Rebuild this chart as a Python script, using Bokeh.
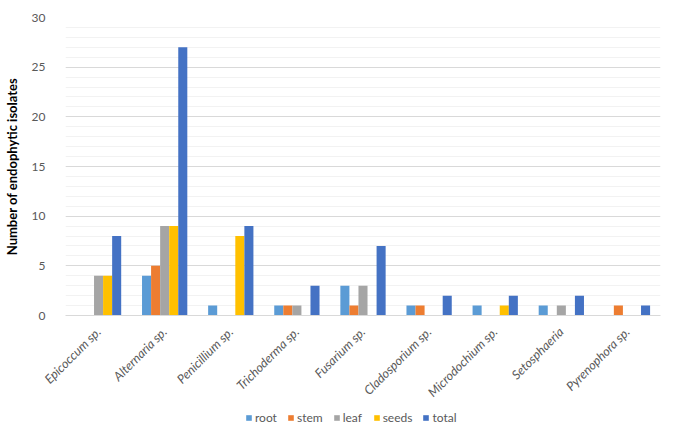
from math import pi
from bokeh.plotting import figure
from bokeh.layouts import column
from bokeh.models import FactorRange, ColumnDataSource, SingleIntervalTicker, Legend, LegendItem
from bokeh.transform import dodge
from bokeh.embed import file_html
from bokeh.resources import INLINE

categories = ["Epicoccum sp.", "Alternaria sp.", "Penicillium sp.", "Trichoderma sp.",
              "Fusarium sp.", "Cladosporium sp.", "Microdochium sp.", "Setosphaeria",
              "Pyrenophora sp."]
root = [0, 4, 1, 1, 3, 1, 1, 1, 0]
stem = [0, 5, 0, 1, 1, 1, 0, 0, 1]
leaf = [4, 9, 0, 1, 3, 0, 0, 1, 0]
seeds = [4, 9, 8, 0, 0, 0, 1, 0, 0]
total = [8, 27, 9, 3, 7, 2, 2, 2, 1]

series_names = ["root", "stem", "leaf", "seeds", "total"]
colors = ["#5B9BD5", "#ED7D31", "#A5A5A5", "#FFC000", "#4472C4"]

FONT = "Lato"

source = ColumnDataSource(dict(cat=categories, root=root, stem=stem, leaf=leaf,
                               seeds=seeds, total=total))

p = figure(x_range=FactorRange(*categories, range_padding=0), y_range=(0, 30),
           width=669, height=410, output_backend="svg", toolbar_location=None,
           min_border_left=55, min_border_right=9, min_border_top=17, min_border_bottom=95)
p.x_range.range_padding = 0
p.outline_line_color = None
p.background_fill_color = "white"
p.border_fill_color = "white"

bw = 0.137
offsets = [-2 * bw, -bw, 0, bw, 2 * bw]
for name, col, off in zip(series_names, colors, offsets):
    p.vbar(x=dodge("cat", off, range=p.x_range), top=name, width=bw, source=source,
           fill_color=col, line_color=None)

# grid
p.xgrid.grid_line_color = None
p.yaxis.ticker = SingleIntervalTicker(interval=5, num_minor_ticks=5)
p.ygrid.grid_line_color = "#d9d9d9"
p.ygrid.minor_grid_line_color = "#f2f2f2"

# y axis
p.yaxis.axis_line_color = None
p.yaxis.major_tick_line_color = None
p.yaxis.minor_tick_line_color = None
p.yaxis.major_label_text_color = "#595959"
p.yaxis.major_label_text_font = FONT
p.yaxis.major_label_text_font_size = "12px"
p.yaxis.major_label_standoff = 14
p.yaxis.axis_label = "Number of endophytic isolates"
p.yaxis.axis_label_text_font = FONT
p.yaxis.axis_label_text_font_style = "bold"
p.yaxis.axis_label_text_font_size = "13px"
p.yaxis.axis_label_text_color = "#000000"
p.yaxis.axis_label_standoff = 9

# x axis
p.xaxis.axis_line_color = "#d9d9d9"
p.xaxis.major_tick_line_color = None
p.xaxis.minor_tick_line_color = None
p.xaxis.major_label_orientation = pi / 4
p.xaxis.major_label_text_font = FONT
p.xaxis.major_label_text_font_style = "italic"
p.xaxis.major_label_text_font_size = "12.5px"
p.xaxis.major_label_text_color = "#595959"
p.xaxis.major_label_standoff = 8

# legend in a separate strip below the chart (bars there fall outside its y-range)
lg = figure(width=669, height=30, output_backend="svg", toolbar_location=None,
            x_range=FactorRange(*categories), y_range=(100, 101),
            x_axis_location=None, y_axis_location=None,
            min_border_left=55, min_border_right=9, min_border_top=0, min_border_bottom=0)
lg.outline_line_color = None
lg.grid.grid_line_color = None
lg.background_fill_color = "white"
lg.border_fill_color = "white"
items = []
for name, col in zip(series_names, colors):
    r = lg.vbar(x="cat", top=name, width=bw, source=source, fill_color=col, line_color=None)
    items.append(LegendItem(label=name, renderers=[r]))

legend = Legend(items=items, orientation="horizontal", location=(180, 15))
legend.glyph_width = 7
legend.glyph_height = 7
legend.label_standoff = 3
legend.spacing = 10
legend.padding = 0
legend.margin = 0
legend.border_line_color = None
legend.background_fill_alpha = 0
legend.label_text_font = FONT
legend.label_text_font_size = "12px"
legend.label_text_color = "#595959"
lg.add_layout(legend, "center")

layout = column(p, lg, spacing=0)
open("out.html", "w").write(file_html(layout, INLINE))
